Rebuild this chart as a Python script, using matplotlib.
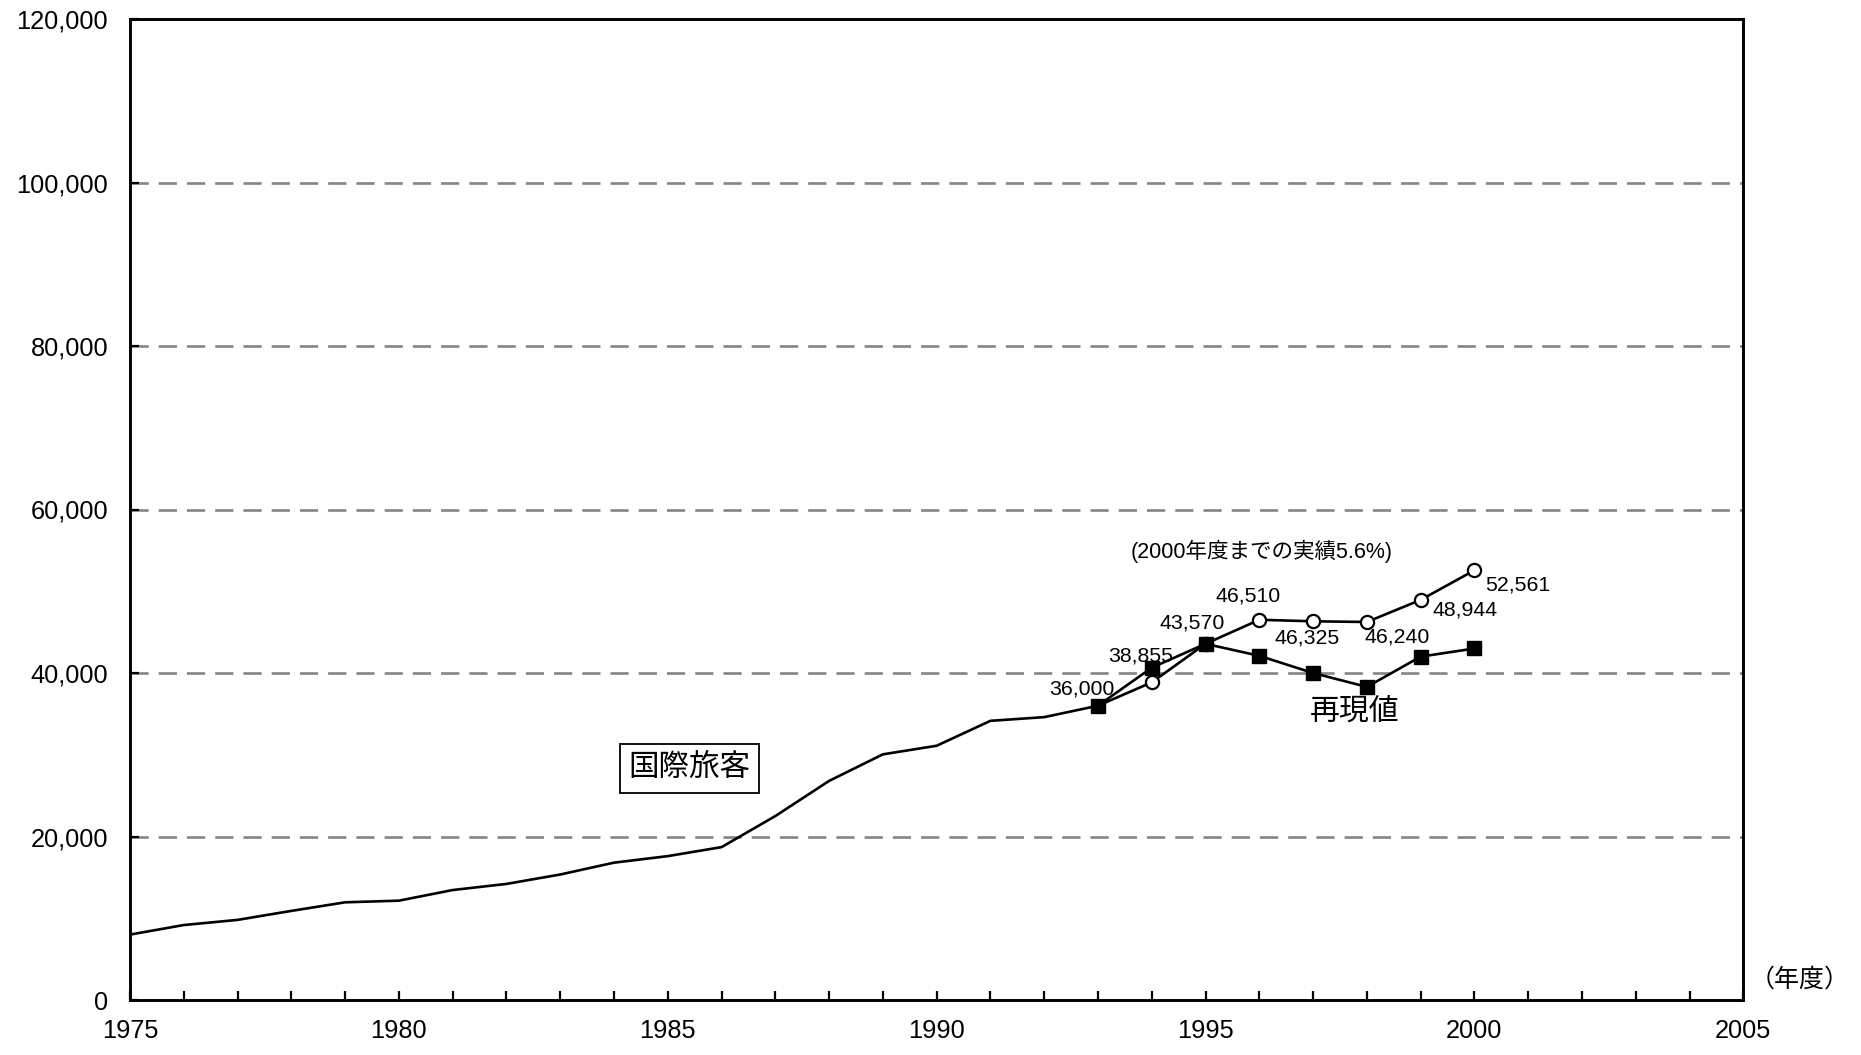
import matplotlib
matplotlib.use("Agg")
import matplotlib.pyplot as plt
from matplotlib.ticker import FuncFormatter, MultipleLocator

plt.rcParams['font.family'] = ['Liberation Sans', 'Noto Sans CJK JP']

# International passenger trend (fiscal years 1975-1993)
hist_years = list(range(1975, 1994))
hist_values = [8000, 9170, 9800, 10900, 11950, 12150, 13450, 14200, 15350,
               16800, 17600, 18700, 22500, 26800, 30050, 31100, 34150, 34600,
               36000]

# Actual results (open circles), 1993-2000
actual_years = list(range(1993, 2001))
actual_values = [36000, 38855, 43570, 46510, 46325, 46240, 48944, 52561]

# Reproduced values (filled squares), 1993-2000
repro_years = list(range(1993, 2001))
repro_values = [36000, 40650, 43570, 42100, 40000, 38300, 42000, 43000]

y_ticks = [0, 20000, 40000, 60000, 80000, 100000, 120000]
x_label_years = [1975, 1980, 1985, 1990, 1995, 2000, 2005]

W, H = 1861, 1055
fig = plt.figure(figsize=(W / 100, H / 100), dpi=100)
ax_l, ax_r, ax_t, ax_b = 130, 1743.3, 19, 1000
ax = fig.add_axes([ax_l / W, 1 - ax_b / H, (ax_r - ax_l) / W, (ax_b - ax_t) / H])

ax.set_xlim(1975, 2005)
ax.set_ylim(0, 120000)

# dashed horizontal grid
for yv in y_ticks[1:-1]:
    ax.axhline(yv, color='#858585', lw=1.9, ls=(0, (6.9, 3.8)), zorder=1)

ax.plot(hist_years, hist_values, color='black', lw=1.9, zorder=3)
ax.plot(actual_years, actual_values, color='black', lw=1.9, zorder=3)
ax.plot(actual_years[1:], actual_values[1:], ls='none', marker='o',
        ms=9.5, mfc='white', mec='black', mew=1.6, zorder=4)
ax.plot(repro_years, repro_values, color='black', lw=1.9, marker='s',
        ms=10.5, mfc='black', mec='black', zorder=5)

# value labels for the actual results, offsets in pixels
label_offsets = [(-16, 17), (-11, 26), (-13, 21), (-11, 24),
                 (-6, -17), (30, -15), (44, -10), (43, -15)]
for yr, v, (dx, dy) in zip(actual_years, actual_values, label_offsets):
    ax.annotate(f'{v:,}', (yr, v), xytext=(dx, dy), textcoords='offset pixels',
                ha='center', va='center', fontsize=15.3, zorder=6)

ax.text(1996.04, 54840, '(2000年度までの実績5.6%)', ha='center', va='center',
        fontsize=15.5)
ax.text(1997.78, 35350, '再現値', ha='center', va='center', fontsize=21.5,
        family=['Noto Sans CJK JP'])
ax.text(1985.40, 28320, '国際旅客', ha='center', va='center', fontsize=22,
        family=['Noto Sans CJK JP'],
        bbox=dict(boxstyle='square,pad=0.28', fc='white', ec='black', lw=1.3))

# axes styling
for sp in ax.spines.values():
    sp.set_linewidth(2.1)
    sp.set_color('black')

ax.set_yticks(y_ticks)
ax.yaxis.set_major_formatter(FuncFormatter(lambda v, p: f'{int(v):,}'))
ax.set_xticks(x_label_years)
ax.set_xticklabels([str(y) for y in x_label_years])
ax.xaxis.set_minor_locator(MultipleLocator(1))
ax.tick_params(axis='both', which='both', direction='in', length=6.5,
               width=1.6, labelsize=18.3, colors='black')
ax.tick_params(axis='y', pad=15.8)
ax.tick_params(axis='x', pad=14)

fig.text(1750 / W, 1 - 980 / H, '（年度）', ha='left', va='center', fontsize=18,
         family=['Noto Sans CJK JP'])

fig.savefig('out.png', dpi=100)
